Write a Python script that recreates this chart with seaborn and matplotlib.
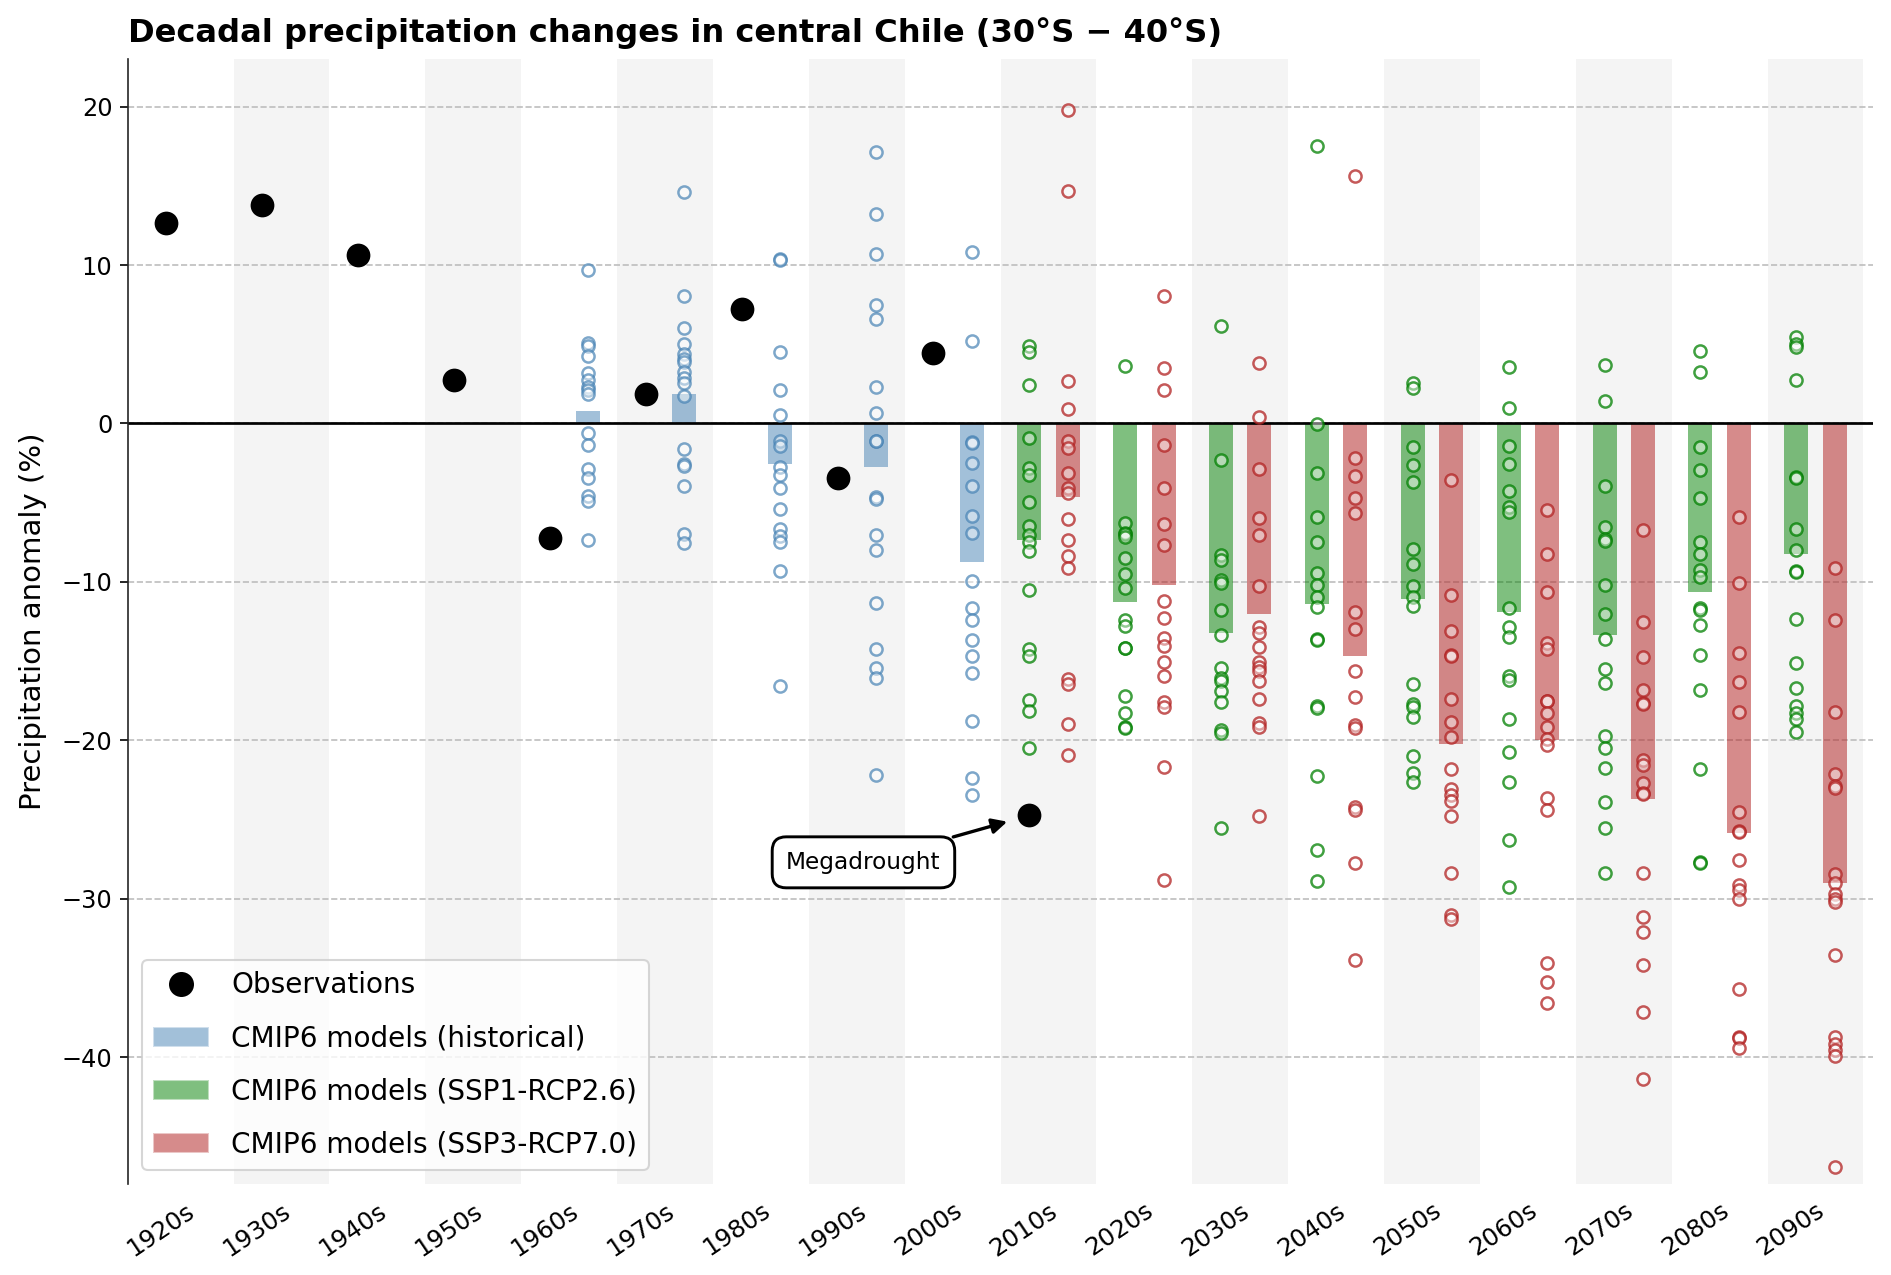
import pandas as pd
import matplotlib.pyplot as plt
import seaborn as sns
from matplotlib.colors import to_rgba
from matplotlib.lines import Line2D
from matplotlib.patches import Patch

sns.set_style("ticks")
plt.rcParams["font.family"] = "DejaVu Sans"
plt.rcParams["text.color"] = "black"
plt.rcParams["axes.labelcolor"] = "black"
plt.rcParams["xtick.color"] = "black"
plt.rcParams["ytick.color"] = "black"

# data
decades = ["1920s", "1930s", "1940s", "1950s", "1960s", "1970s", "1980s", "1990s", "2000s",
           "2010s", "2020s", "2030s", "2040s", "2050s", "2060s", "2070s", "2080s", "2090s"]

obs_decades = ["1920s", "1930s", "1940s", "1950s", "1960s", "1970s", "1980s", "1990s", "2000s", "2010s"]
obs_values = [12.67, 13.77, 10.65, 2.77, -7.23, 1.86, 7.2, -3.46, 4.42, -24.74]

hist_decades = ["1960s", "1970s", "1980s", "1990s", "2000s"]
hist_bars = [0.79, 1.83, -2.59, -2.75, -8.73]
hist_models = [
    [9.69, 5.1, 4.9, 4.27, 3.17, 2.72, 2.33, 2.12, 1.86, -0.6, -1.36, -2.9, -3.43, -4.58, -4.9, -7.38],
    [14.63, 8.04, 6.02, 5.0, 4.4, 4.08, 3.9, 3.25, 2.88, 2.57, 1.73, -1.62, -2.59, -2.7, -3.95, -6.96, -7.57],
    [10.39, 10.31, 4.5, 2.09, 0.55, -1.1, -1.41, -2.72, -3.25, -4.06, -5.42, -6.65, -7.12, -7.49, -9.29, -16.55],
    [17.12, 13.22, 10.68, 7.49, 6.62, 2.33, 0.68, -1.1, -1.13, -4.66, -4.74, -7.04, -7.98, -11.31, -14.21,
     -15.41, -16.04, -22.19],
    [10.81, 5.18, -1.16, -1.22, -2.52, -3.95, -5.87, -6.94, -9.95, -11.67, -12.41, -13.65, -14.66, -15.77,
     -18.76, -22.36, -23.43],
]

ssp_decades = ["2010s", "2020s", "2030s", "2040s", "2050s", "2060s", "2070s", "2080s", "2090s"]
ssp126_bars = [-7.34, -11.27, -13.21, -11.41, -11.11, -11.9, -13.38, -10.62, -8.26]
ssp370_bars = [-4.67, -10.2, -12.05, -14.7, -20.21, -19.98, -23.68, -25.83, -28.98]

ssp126_models = [
    [4.87, 4.5, 2.41, -0.95, -2.84, -3.26, -4.96, -6.46, -7.05, -7.51, -8.05, -10.54, -14.22, -14.68, -17.46,
     -18.15, -20.46],
    [3.61, -6.27, -6.94, -7.0, -7.15, -8.48, -9.53, -10.37, -12.41, -12.79, -14.15, -14.2, -17.18, -18.28,
     -19.14, -19.2],
    [6.18, -2.31, -8.31, -8.62, -9.88, -10.09, -11.78, -13.38, -15.44, -16.05, -16.26, -16.87, -17.6, -19.35,
     -19.56, -25.52],
    [17.49, -0.05, -3.14, -5.91, -7.49, -9.43, -10.18, -10.93, -11.58, -13.6, -13.65, -17.84, -17.97, -22.26,
     -26.95, -28.9],
    [2.57, 2.25, -1.5, -2.6, -3.69, -7.94, -8.86, -10.28, -10.93, -11.55, -16.47, -17.72, -17.89, -18.54,
     -20.99, -22.06, -22.66],
    [3.59, 0.97, -1.45, -2.55, -4.29, -5.29, -5.57, -11.65, -12.85, -13.48, -15.92, -16.22, -18.64, -20.76,
     -22.64, -26.3, -29.25],
    [3.69, 1.41, -3.95, -6.52, -7.28, -7.44, -10.18, -12.03, -13.63, -15.48, -16.4, -19.73, -20.48, -21.72,
     -23.91, -25.51, -28.37],
    [4.58, 3.27, -1.47, -2.94, -4.71, -7.47, -8.26, -9.27, -9.72, -11.64, -11.75, -12.72, -14.64, -16.82,
     -21.81, -27.7, -27.76],
    [5.45, 5.0, 4.84, 2.75, -3.39, -3.43, -6.67, -7.99, -9.32, -9.36, -12.32, -15.14, -16.72, -17.81, -18.3,
     -18.67, -19.47],
]

ssp370_models = [
    [19.76, 14.66, 2.7, 0.94, -1.11, -1.54, -3.11, -4.1, -4.42, -6.04, -7.34, -8.37, -9.15, -16.15, -16.45,
     -18.99, -20.95],
    [8.04, 3.51, 2.12, -1.37, -4.1, -6.35, -7.68, -11.21, -12.26, -13.56, -14.03, -15.06, -15.94, -17.6,
     -17.88, -21.7, -28.84],
    [3.82, 0.42, -2.88, -5.99, -7.07, -10.28, -12.87, -13.25, -14.09, -15.04, -15.35, -15.6, -16.26, -17.39,
     -18.93, -19.14, -24.78],
    [15.63, -2.17, -3.32, -4.69, -5.67, -11.93, -13.0, -15.65, -17.29, -19.02, -19.22, -24.21, -24.38, -27.75,
     -33.87],
    [-3.57, -10.83, -13.1, -14.6, -14.65, -17.42, -18.87, -19.77, -21.79, -23.08, -23.46, -23.86, -24.78,
     -28.35, -31.0, -31.25],
    [-5.49, -8.22, -10.64, -13.88, -14.26, -17.5, -17.52, -18.28, -19.16, -19.89, -20.27, -23.66, -24.42,
     -34.03, -35.27, -36.59],
    [-6.73, -12.56, -14.72, -16.8, -17.67, -17.71, -21.24, -21.56, -22.71, -23.34, -23.41, -28.37, -31.13,
     -32.08, -34.18, -37.12, -41.37],
    [-5.93, -10.09, -14.51, -16.32, -18.19, -24.54, -25.7, -25.76, -27.55, -29.1, -29.44, -30.03, -35.71,
     -38.71, -38.8, -39.43],
    [-9.11, -12.41, -18.23, -22.15, -22.88, -23.03, -28.45, -29.02, -29.69, -30.01, -30.18, -33.52, -38.74,
     -39.16, -39.54, -39.9, -46.94],
]

# colours / layout
c_hist = "steelblue"
c_126 = "green"
c_370 = "firebrick"
left_off, right_off = -0.2, 0.2
bar_w = 0.25


def pos(decs, off):
    return [decades.index(d) + off for d in decs]


def long_df(decs, models, off):
    rows = []
    for d, vals in zip(decs, models):
        for v in vals:
            rows.append({"x": decades.index(d) + off, "value": v})
    return pd.DataFrame(rows)


hist_df = long_df(hist_decades, hist_models, right_off)
s126_df = long_df(ssp_decades, ssp126_models, left_off)
s370_df = long_df(ssp_decades, ssp370_models, right_off)
obs_df = pd.DataFrame({"x": pos(obs_decades, left_off), "value": obs_values})

fig, ax = plt.subplots(figsize=(12.613, 8.5), dpi=150)
fig.subplots_adjust(left=0.0677, right=0.99, top=0.9537, bottom=0.0714)

# alternating background bands
for i in range(1, len(decades), 2):
    ax.axvspan(i - 0.5, i + 0.5, color="#f4f4f4", lw=0, zorder=0)

ax.yaxis.grid(True, linestyle="--", color="#bdbdbd", linewidth=0.8)
ax.set_axisbelow(True)

ax.bar(pos(hist_decades, right_off), hist_bars, width=bar_w, color=c_hist, alpha=0.5, lw=0, zorder=2)
ax.bar(pos(ssp_decades, left_off), ssp126_bars, width=bar_w, color=c_126, alpha=0.5, lw=0, zorder=2)
ax.bar(pos(ssp_decades, right_off), ssp370_bars, width=bar_w, color=c_370, alpha=0.52, lw=0, zorder=2)

ax.axhline(0, color="black", lw=1.3, zorder=2.5)

for df, c, a in [(hist_df, c_hist, 0.7), (s126_df, c_126, 0.75), (s370_df, c_370, 0.75)]:
    sns.scatterplot(data=df, x="x", y="value", ax=ax, s=34, marker="o",
                    facecolor=(1, 1, 1, 0.45), edgecolor=to_rgba(c, a),
                    linewidth=1.2, legend=False, zorder=3)

sns.scatterplot(data=obs_df, x="x", y="value", ax=ax, s=130, color="black",
                edgecolor="black", linewidth=0, legend=False, zorder=4)

ax.annotate("Megadrought", xy=(decades.index(obs_decades[-1]) + left_off, obs_values[-1]),
            xytext=(7.07, -27.7), ha="center", va="center", fontsize=11.2,
            bbox=dict(boxstyle="round,pad=0.6", fc="white", ec="black", lw=1.4),
            arrowprops=dict(arrowstyle="-|>", color="black", lw=1.6, shrinkB=11, mutation_scale=15),
            zorder=5)

ax.set_xlim(-0.6, len(decades) - 0.4)
ax.set_ylim(-48, 23)
ax.set_xticks(range(len(decades)))
ax.set_xticklabels(decades, rotation=34, ha="right", rotation_mode="anchor", fontsize=11.8)
ax.tick_params(axis="x", length=0, pad=7)
ax.tick_params(axis="y", labelsize=11.5, length=4)
ax.set_yticks([-40, -30, -20, -10, 0, 10, 20])
ax.set_xlabel("")
ax.set_ylabel("Precipitation anomaly (%)", fontsize=14, labelpad=7)
ax.set_title("Decadal precipitation changes in central Chile (30°S − 40°S)",
             loc="left", fontsize=15.4, fontweight="bold", pad=8)
sns.despine(ax=ax, bottom=True)

handles = [
    Line2D([], [], marker="o", color="black", linestyle="none", markersize=11, label="Observations"),
    Patch(facecolor=c_hist, alpha=0.5, label="CMIP6 models (historical)"),
    Patch(facecolor=c_126, alpha=0.5, label="CMIP6 models (SSP1-RCP2.6)"),
    Patch(facecolor=c_370, alpha=0.52, label="CMIP6 models (SSP3-RCP7.0)"),
]
ax.legend(handles=handles, loc="lower left", fontsize=13.4, labelspacing=0.9, frameon=True)

fig.savefig("out.png", dpi=150)
